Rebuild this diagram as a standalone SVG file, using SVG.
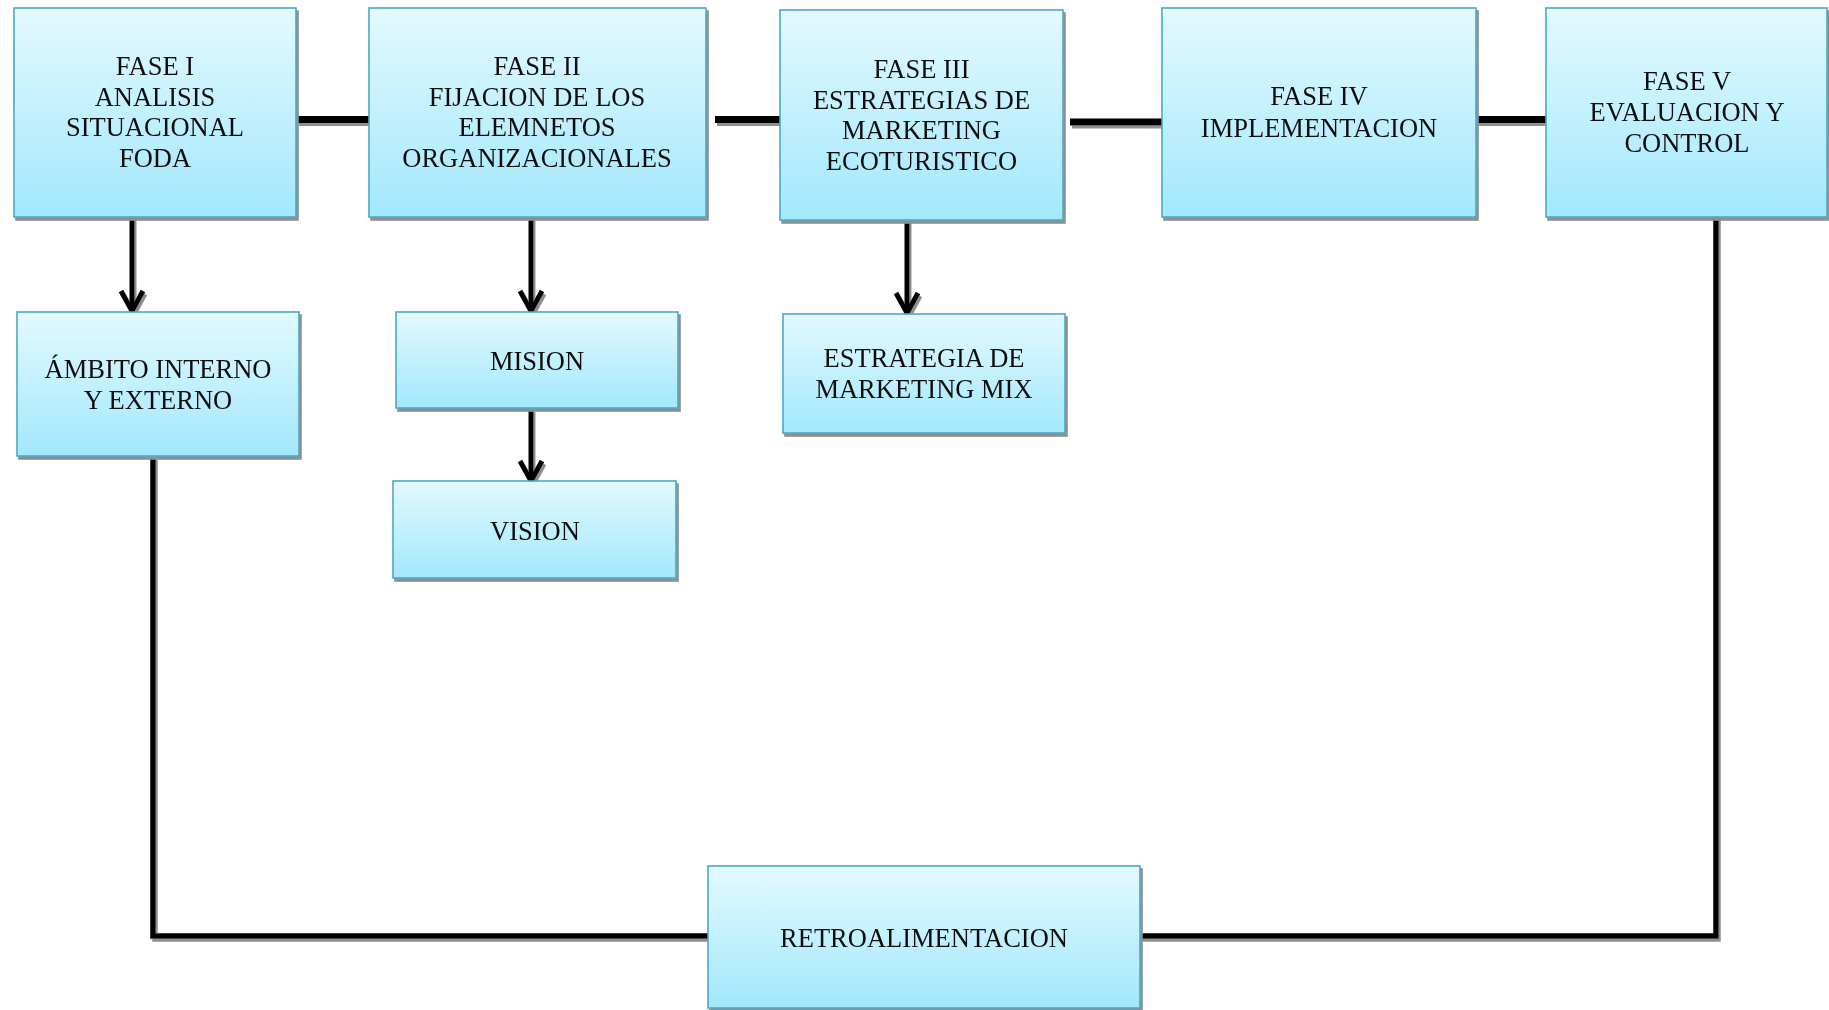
<svg xmlns="http://www.w3.org/2000/svg" width="1829" height="1010" viewBox="0 0 1829 1010">
  <defs>
    <linearGradient id="boxFill" x1="0" y1="0" x2="0" y2="1">
      <stop offset="0" stop-color="#E3F9FF"/>
      <stop offset="1" stop-color="#A2E8FC"/>
    </linearGradient>
    <filter id="drop" x="-5%" y="-5%" width="115%" height="120%">
      <feFlood flood-color="#8f8f8f" result="grey"/>
      <feComposite in="grey" in2="SourceAlpha" operator="in" result="shape"/>
      <feOffset in="shape" dx="2" dy="3" result="shadow"/>
      <feMerge>
        <feMergeNode in="shadow"/>
        <feMergeNode in="SourceGraphic"/>
      </feMerge>
    </filter>
    <filter id="dropLine" x="-20%" y="-20%" width="140%" height="140%" filterUnits="userSpaceOnUse">
      <feFlood flood-color="#8f8f8f" result="grey"/>
      <feComposite in="grey" in2="SourceAlpha" operator="in" result="shape"/>
      <feOffset in="shape" dx="2" dy="3" result="shadow"/>
      <feMerge>
        <feMergeNode in="shadow"/>
        <feMergeNode in="SourceGraphic"/>
      </feMerge>
    </filter>
    <marker id="chevron" markerUnits="userSpaceOnUse" viewBox="-26 -16 32 32" markerWidth="32" markerHeight="32" refX="0" refY="0" orient="auto" overflow="visible">
      <path d="M-20,-11 L0,0 L-20,11" fill="none" stroke="#000" stroke-width="5" stroke-linejoin="miter" stroke-linecap="butt"/>
    </marker>
  </defs>
  <style>
    .box { fill: url(#boxFill); stroke: #4AA9C7; stroke-width: 1.6; }
    .label { font-family: "Liberation Serif", "Times New Roman", serif; font-size: 26.5px; fill: #111; text-anchor: middle; }
    .link { fill: none; stroke: #000; stroke-width: 7; }
    .flow { fill: none; stroke: #000; stroke-width: 5; }
    .loop { fill: none; stroke: #000; stroke-width: 5.5; stroke-linejoin: miter; }
  </style>

  <rect width="1829" height="1010" fill="#fff"/>

  <!-- connectors -->
  <g id="connectors" filter="url(#dropLine)">
    <!-- phase chain -->
    <line class="link" x1="297" y1="119.5" x2="369" y2="119.5"/>
    <line class="link" x1="715" y1="119.5" x2="780" y2="119.5"/>
    <line class="link" x1="1070" y1="122" x2="1162" y2="122"/>
    <line class="link" x1="1476" y1="119.5" x2="1546" y2="119.5"/>
    <!-- downward arrows -->
    <line class="flow" x1="132" y1="217" x2="132" y2="311" marker-end="url(#chevron)"/>
    <line class="flow" x1="531" y1="217" x2="531" y2="311" marker-end="url(#chevron)"/>
    <line class="flow" x1="531" y1="409" x2="531" y2="481" marker-end="url(#chevron)"/>
    <line class="flow" x1="907" y1="220" x2="907" y2="313" marker-end="url(#chevron)"/>
    <!-- feedback loop -->
    <polyline class="loop" points="153,457 153,936 708,936"/>
    <polyline class="loop" points="1716,217 1716,936 1140,936"/>
  </g>

  <g id="fase1" filter="url(#drop)">
    <rect class="box" x="14" y="8" width="282" height="209"/>
    <text class="label"><tspan x="155" y="75">FASE I</tspan><tspan x="155" y="105.5">ANALISIS</tspan><tspan x="155" y="136">SITUACIONAL</tspan><tspan x="155" y="167">FODA</tspan></text>
  </g>

  <g id="fase2" filter="url(#drop)">
    <rect class="box" x="369" y="8" width="337" height="209"/>
    <text class="label"><tspan x="537" y="75">FASE II</tspan><tspan x="537" y="105.5">FIJACION DE LOS</tspan><tspan x="537" y="136">ELEMNETOS</tspan><tspan x="537" y="167">ORGANIZACIONALES</tspan></text>
  </g>

  <g id="fase3" filter="url(#drop)">
    <rect class="box" x="780" y="10" width="283" height="210"/>
    <text class="label"><tspan x="921.5" y="78">FASE III</tspan><tspan x="921.5" y="108.5">ESTRATEGIAS DE</tspan><tspan x="921.5" y="139">MARKETING</tspan><tspan x="921.5" y="170">ECOTURISTICO</tspan></text>
  </g>

  <g id="fase4" filter="url(#drop)">
    <rect class="box" x="1162" y="8" width="314" height="209"/>
    <text class="label"><tspan x="1319" y="105">FASE IV</tspan><tspan x="1319" y="137">IMPLEMENTACION</tspan></text>
  </g>

  <g id="fase5" filter="url(#drop)">
    <rect class="box" x="1546" y="8" width="281" height="209"/>
    <text class="label"><tspan x="1687" y="90">FASE V</tspan><tspan x="1687" y="121">EVALUACION Y</tspan><tspan x="1687" y="152">CONTROL</tspan></text>
  </g>

  <g id="ambito" filter="url(#drop)">
    <rect class="box" x="17" y="312" width="282" height="144"/>
    <text class="label"><tspan x="158" y="378">ÁMBITO INTERNO</tspan><tspan x="158" y="409">Y EXTERNO</tspan></text>
  </g>

  <g id="mision" filter="url(#drop)">
    <rect class="box" x="396" y="312" width="282" height="96"/>
    <text class="label" x="537" y="370">MISION</text>
  </g>

  <g id="vision" filter="url(#drop)">
    <rect class="box" x="393" y="481" width="283" height="97"/>
    <text class="label" x="535" y="540">VISION</text>
  </g>

  <g id="marketing-mix" filter="url(#drop)">
    <rect class="box" x="783" y="314" width="282" height="119"/>
    <text class="label"><tspan x="924" y="367">ESTRATEGIA DE</tspan><tspan x="924" y="398">MARKETING MIX</tspan></text>
  </g>

  <g id="retroalimentacion" filter="url(#drop)">
    <rect class="box" x="708" y="866" width="432" height="142"/>
    <text class="label" x="924" y="947">RETROALIMENTACION</text>
  </g>
</svg>
